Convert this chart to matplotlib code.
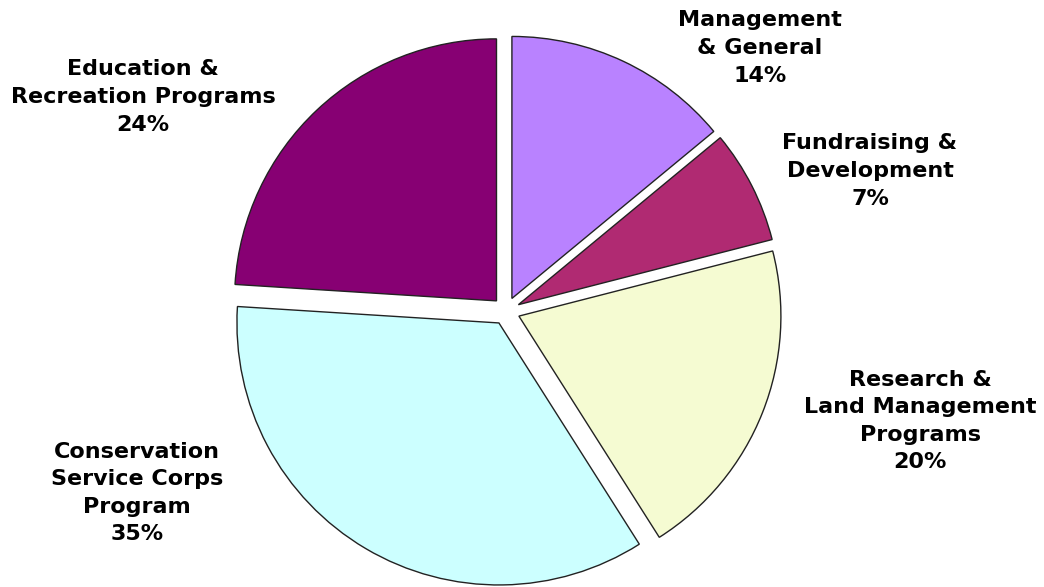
import matplotlib
matplotlib.use("Agg")
import matplotlib.pyplot as plt

labels = ["Management\n& General", "Fundraising &\nDevelopment",
          "Research &\nLand Management\nPrograms",
          "Conservation\nService Corps\nProgram",
          "Education &\nRecreation Programs"]
values = [14, 7, 20, 35, 24]
colors = ["#B982FF", "#B02A72", "#F5FBD2", "#CCFFFF", "#870073"]
# label anchor positions in pixels (x, y from top)
label_px = [(760, 48), (870, 171), (920, 421), (137, 493), (143, 97)]

W, H = 1044, 587
cx, cy, R = 506, 311, 262

fig = plt.figure(figsize=(W / 100, H / 100), dpi=100)
ax = fig.add_axes([0, 0, 1, 1])
ax.pie(values, colors=colors, startangle=90, counterclock=False,
       explode=[0.053] * len(values), radius=1.0,
       wedgeprops=dict(edgecolor="#222222", linewidth=1.0))
ax.set_xlim(-cx / R, (W - cx) / R)
ax.set_ylim(-(H - cy) / R, cy / R)
ax.set_aspect("equal")
ax.axis("off")

for lab, v, (px, py) in zip(labels, values, label_px):
    fig.text(px / W, 1 - py / H, f"{lab}\n{v}%", ha="center", va="center",
             fontsize=16, fontweight="bold", family="DejaVu Sans",
             linespacing=1.47)

fig.savefig("out.png", dpi=100)
